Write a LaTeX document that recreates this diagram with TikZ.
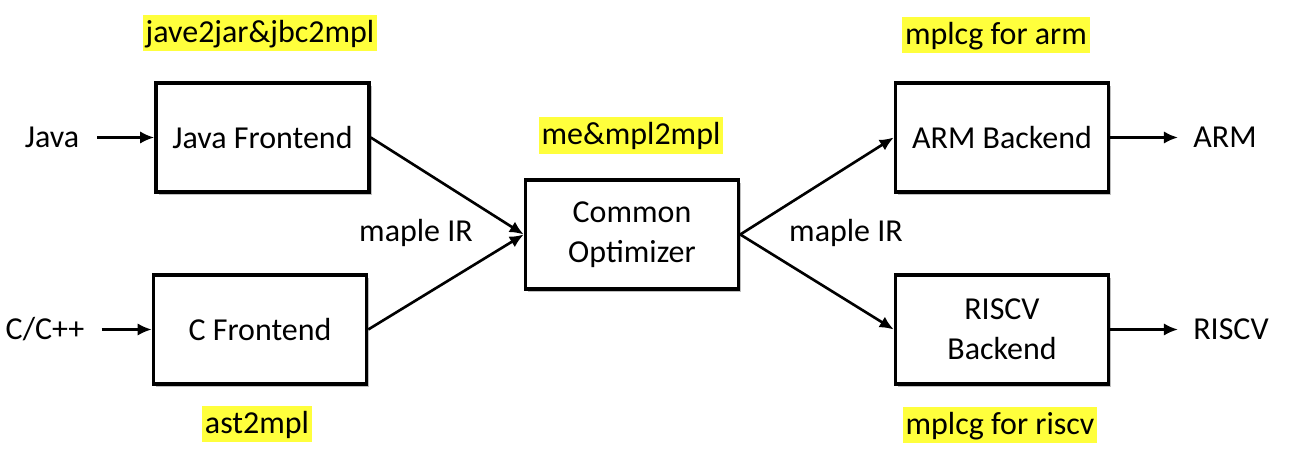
\documentclass[tikz,border=0pt]{standalone}
\usepackage{fontspec}
\setmainfont{Carlito}
\usetikzlibrary{arrows.meta,shadows}

\definecolor{hlyellow}{RGB}{255,255,60}

\tikzset{
    stage/.style={draw, line width=2pt, fill=white, minimum width=4.26cm, minimum height=2.18cm,
        align=center, inner sep=2pt,
        drop shadow={shadow xshift=1.5pt, shadow yshift=-1.5pt, opacity=0.25, fill=black}},
    tool/.style={fill=hlyellow, inner xsep=1.5pt, inner ysep=1.6pt, text height=0.5cm, text depth=0.12cm},
    flow/.style={-{Latex[length=8pt, width=7pt]}, line width=1.5pt},
    io/.style={inner sep=0pt}
}

\begin{document}
\begin{tikzpicture}[font=\fontsize{18.2}{22.5}\selectfont]

        \useasboundingbox (0,0) rectangle (25.88,9.48);

        % --- Blocchi principali ---
        \node[stage] (javafe) at (5.25, 6.73) {Java Frontend};
        \node[stage] (cfe)    at (5.20, 2.89) {C Frontend};
        \node[stage] (opt)    at (12.64, 4.79) {Common\\Optimizer};
        \node[stage] (armbe)  at (20.04, 6.73) {ARM Backend};
        \node[stage] (riscvbe) at (20.04, 2.89) {RISCV\\Backend};

        % --- Ingressi e uscite ---
        \node[io] (javain)   at (1.04, 6.73) {Java};
        \node[io] (cppin)    at (0.90, 2.89) {C/C++};
        \node[io] (armout)   at (24.50, 6.73) {ARM};
        \node[io] (riscvout) at (24.62, 2.89) {RISCV};

        % --- Etichette evidenziate degli strumenti ---
        \node[tool] (jbctool)   at (5.20, 8.82) {jave2jar\&jbc2mpl};
        \node[tool] (asttool)   at (5.14, 1.00) {ast2mpl};
        \node[tool] (mpltool)   at (12.62, 6.77) {me\&mpl2mpl};
        \node[tool] (armtool)   at (19.92, 8.78) {mplcg for arm};
        \node[tool] (riscvtool) at (20.00, 0.98) {mplcg for riscv};

        % --- Etichette IR ---
        \node (irleft)  at (8.32, 4.82) {maple IR};
        \node (irright) at (16.92, 4.82) {maple IR};

        % --- Collegamenti ---
        \draw[flow, shorten <=0.36cm] (javain) -- (javafe);
        \draw[flow, shorten <=0.34cm] (cppin) -- (cfe);
        \draw[flow] (javafe.east) -- (opt.west);
        \draw[flow] (cfe.east) -- (opt.west);
        \draw[flow] (opt.east) -- (armbe.west);
        \draw[flow] (opt.east) -- (riscvbe.west);
        \draw[flow, shorten >=0.3cm] (armbe) -- (armout);
        \draw[flow, shorten >=0.3cm] (riscvbe) -- (riscvout);

    \end{tikzpicture}
\end{document}
